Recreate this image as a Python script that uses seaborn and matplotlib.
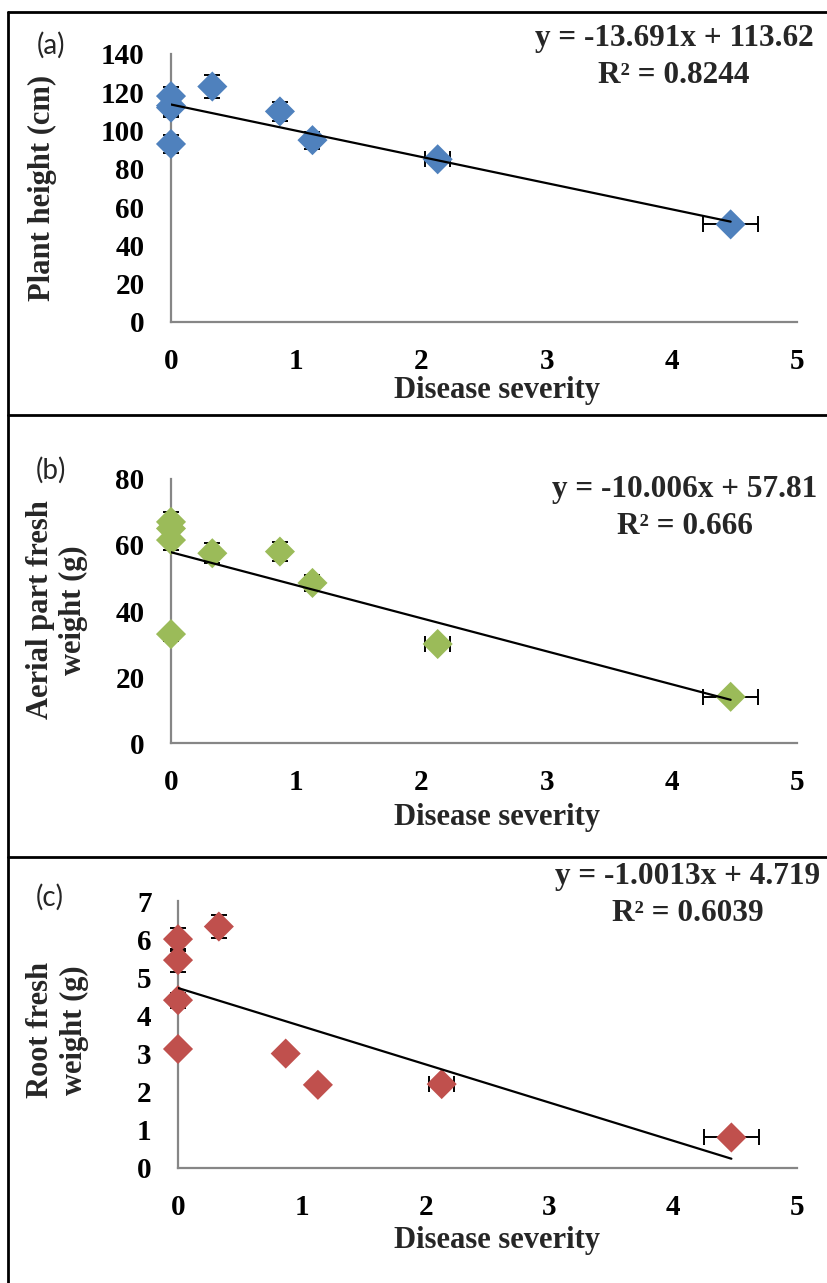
import numpy as np
import pandas as pd
import matplotlib
matplotlib.use("Agg")
import matplotlib.pyplot as plt
from matplotlib.lines import Line2D
import seaborn as sns

# ---------------- data ----------------
severity = [0, 0, 0, 0, 0.33, 0.87, 1.13, 2.13, 4.47]
severity_err = [0, 0, 0, 0, 0, 0, 0, 0.10, 0.22]

plant_height = [118, 113, 112, 93, 123, 110, 95, 85, 51]
plant_height_err = [5, 5, 5, 4.5, 6, 5, 4.5, 3, 1.5]

aerial_weight = [67, 65, 61.5, 33, 57.5, 58, 48.5, 30, 14]
aerial_weight_err = [3, 3, 3, 2, 3, 3, 2.5, 1, 1]

root_weight = [6.0, 5.45, 4.4, 3.12, 6.33, 3.0, 2.18, 2.2, 0.8]
root_weight_err = [0.3, 0.3, 0.2, 0.1, 0.3, 0.1, 0.1, 0.1, 0.05]

slopes = [-13.691, -10.006, -1.0013]
intercepts = [113.62, 57.81, 4.719]
eq_labels = ["y = -13.691x + 113.62\nR² = 0.8244",
             "y = -10.006x + 57.81\nR² = 0.666",
             "y = -1.0013x + 4.719\nR² = 0.6039"]
panel_letters = ["(a)", "(b)", "(c)"]
y_labels = ["Plant height (cm)", "Aerial part fresh\nweight (g)", "Root fresh\nweight (g)"]
x_label = "Disease severity"
x_ticks = [0, 1, 2, 3, 4, 5]
y_ticks = [[0, 20, 40, 60, 80, 100, 120, 140], [0, 20, 40, 60, 80], [0, 1, 2, 3, 4, 5, 6, 7]]
colors = ["#4F81BD", "#9BBB59", "#C0504D"]

# ---------------- style ----------------
sns.set_style("white")
plt.rcParams['font.family'] = ['Liberation Serif', 'DejaVu Serif']
plt.rcParams['font.weight'] = 'bold'

W, H = 828, 1283
fig = plt.figure(figsize=(W / 100, H / 100), dpi=100)

def fx(px):
    return px / W

def fy(py):
    return 1 - py / H

# axes rects in pixel coords: (left, top, right, bottom)
rects = [(171, 54, 797, 322), (171, 479, 797, 743), (178, 901, 797, 1168)]
ylabel_pos = [(-0.206, 0.5), (-0.182, 0.504), (-0.195, 0.517)]
xlabel_pos = [(0.521, -0.257), (0.521, -0.284), (0.515, -0.27)]
eq_pos = [(674, 57), (685, 508), (688, 895)]
letter_pos = [(51, 45), (51, 470), (50, 897)]

series = [(plant_height, plant_height_err), (aerial_weight, aerial_weight_err),
          (root_weight, root_weight_err)]
spine_col = "#868686"

for i, (l, t, r, b) in enumerate(rects):
    ax = fig.add_axes([fx(l), fy(b), (r - l) / W, (b - t) / H])
    yv, ye = series[i]
    df = pd.DataFrame({"x": severity, "y": yv})
    eb = ax.errorbar(severity, yv, xerr=severity_err, yerr=ye, fmt='none',
                     ecolor='black', elinewidth=1.4, capsize=5.5, capthick=1.4, zorder=2)
    for art in eb.get_children():
        art.set_clip_on(False)
    sns.scatterplot(data=df, x="x", y="y", marker="D", s=235, color=colors[i],
                    edgecolor='none', linewidth=0, ax=ax, zorder=3, clip_on=False)
    xl = np.array([0, max(severity)])
    sns.lineplot(x=xl, y=slopes[i] * xl + intercepts[i], color='black',
                 linewidth=1.6, ax=ax, zorder=4)
    ax.set_xlim(0, 5)
    ax.set_ylim(y_ticks[i][0], y_ticks[i][-1])
    ax.set_xticks(x_ticks)
    ax.set_yticks(y_ticks[i])
    ax.set_xticklabels([str(v) for v in x_ticks])
    ax.set_yticklabels([str(v) for v in y_ticks[i]])
    for s in ['top', 'right']:
        ax.spines[s].set_visible(False)
    for s in ['left', 'bottom']:
        ax.spines[s].set_color(spine_col)
        ax.spines[s].set_linewidth(1.6)
        ax.spines[s].set_zorder(1)
    ax.tick_params(axis='both', which='major', direction='out', length=6,
                   width=1.6, color=spine_col, labelsize=21, labelcolor='black')
    ax.tick_params(axis='y', pad=13)
    ax.tick_params(axis='x', pad=13)
    for lab in ax.get_xticklabels() + ax.get_yticklabels():
        lab.set_fontweight('bold')
    ax.set_facecolor('none')
    ax.set_xlabel(x_label, fontsize=22, fontweight='bold', va='center')
    ax.xaxis.set_label_coords(*xlabel_pos[i])
    ax.set_ylabel(y_labels[i], fontsize=22, fontweight='bold', va='center',
                  multialignment='center', linespacing=1.2)
    ax.yaxis.set_label_coords(*ylabel_pos[i])
    ax.grid(False)

    fig.text(fx(eq_pos[i][0]), fy(eq_pos[i][1]), eq_labels[i], ha='center', va='center',
             multialignment='center', fontsize=22.5, fontweight='bold', linespacing=1.35)
    fig.text(fx(letter_pos[i][0]), fy(letter_pos[i][1]), panel_letters[i], ha='center',
             va='center', fontsize=20, fontweight='normal', family=['Lato', 'DejaVu Sans'])

# panel borders
lw = 2.0
fig.add_artist(Line2D([fx(8), 1], [fy(12), fy(12)], color='black', linewidth=lw))
fig.add_artist(Line2D([fx(8), fx(8)], [0, fy(12)], color='black', linewidth=lw))
for yy in [415, 857]:
    fig.add_artist(Line2D([fx(8), 1], [fy(yy), fy(yy)], color='black', linewidth=lw))

fig.savefig("out.png", dpi=100)
